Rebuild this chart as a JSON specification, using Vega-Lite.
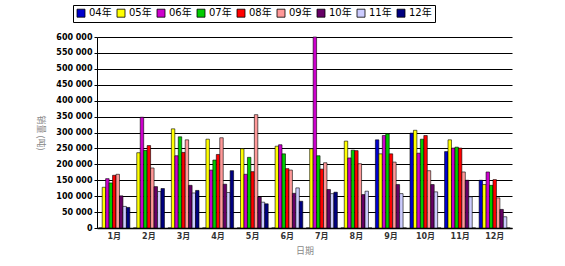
{
  "$schema": "https://vega.github.io/schema/vega-lite/v6.json",
  "width": 415,
  "height": 191,
  "autosize": {"type": "none"},
  "padding": {"left": 97, "top": 37, "right": 53, "bottom": 38},
  "background": "white",
  "datasets": {
    "sales": [
      {"m": "1月", "y": "04年", "v": 0}, {"m": "2月", "y": "04年", "v": 0}, {"m": "3月", "y": "04年", "v": 0}, {"m": "4月", "y": "04年", "v": 0},
      {"m": "5月", "y": "04年", "v": 0}, {"m": "6月", "y": "04年", "v": 0}, {"m": "7月", "y": "04年", "v": 0}, {"m": "8月", "y": "04年", "v": 0},
      {"m": "9月", "y": "04年", "v": 277000}, {"m": "10月", "y": "04年", "v": 298000}, {"m": "11月", "y": "04年", "v": 240000}, {"m": "12月", "y": "04年", "v": 150000},
      {"m": "1月", "y": "05年", "v": 128000}, {"m": "2月", "y": "05年", "v": 236500}, {"m": "3月", "y": "05年", "v": 311500}, {"m": "4月", "y": "05年", "v": 279000},
      {"m": "5月", "y": "05年", "v": 249000}, {"m": "6月", "y": "05年", "v": 257000}, {"m": "7月", "y": "05年", "v": 249000}, {"m": "8月", "y": "05年", "v": 273000},
      {"m": "9月", "y": "05年", "v": 233000}, {"m": "10月", "y": "05年", "v": 307000}, {"m": "11月", "y": "05年", "v": 277000}, {"m": "12月", "y": "05年", "v": 136500},
      {"m": "1月", "y": "06年", "v": 155000}, {"m": "2月", "y": "06年", "v": 348000}, {"m": "3月", "y": "06年", "v": 227000}, {"m": "4月", "y": "06年", "v": 182000},
      {"m": "5月", "y": "06年", "v": 168750}, {"m": "6月", "y": "06年", "v": 261500}, {"m": "7月", "y": "06年", "v": 600000}, {"m": "8月", "y": "06年", "v": 220000},
      {"m": "9月", "y": "06年", "v": 290500}, {"m": "10月", "y": "06年", "v": 235000}, {"m": "11月", "y": "06年", "v": 251000}, {"m": "12月", "y": "06年", "v": 176000},
      {"m": "1月", "y": "07年", "v": 141600}, {"m": "2月", "y": "07年", "v": 243750}, {"m": "3月", "y": "07年", "v": 286500}, {"m": "4月", "y": "07年", "v": 213500},
      {"m": "5月", "y": "07年", "v": 222000}, {"m": "6月", "y": "07年", "v": 233000}, {"m": "7月", "y": "07年", "v": 227000}, {"m": "8月", "y": "07年", "v": 244500},
      {"m": "9月", "y": "07年", "v": 296000}, {"m": "10月", "y": "07年", "v": 279000}, {"m": "11月", "y": "07年", "v": 254000}, {"m": "12月", "y": "07年", "v": 134000},
      {"m": "1月", "y": "08年", "v": 165600}, {"m": "2月", "y": "08年", "v": 259000}, {"m": "3月", "y": "08年", "v": 237500}, {"m": "4月", "y": "08年", "v": 231000},
      {"m": "5月", "y": "08年", "v": 177000}, {"m": "6月", "y": "08年", "v": 186500}, {"m": "7月", "y": "08年", "v": 185000}, {"m": "8月", "y": "08年", "v": 243000},
      {"m": "9月", "y": "08年", "v": 233000}, {"m": "10月", "y": "08年", "v": 290500}, {"m": "11月", "y": "08年", "v": 251000}, {"m": "12月", "y": "08年", "v": 152000},
      {"m": "1月", "y": "09年", "v": 168750}, {"m": "2月", "y": "09年", "v": 188500}, {"m": "3月", "y": "09年", "v": 277000}, {"m": "4月", "y": "09年", "v": 283500},
      {"m": "5月", "y": "09年", "v": 356000}, {"m": "6月", "y": "09年", "v": 182000}, {"m": "7月", "y": "09年", "v": 205000}, {"m": "8月", "y": "09年", "v": 202000},
      {"m": "9月", "y": "09年", "v": 207000}, {"m": "10月", "y": "09年", "v": 180000}, {"m": "11月", "y": "09年", "v": 176000}, {"m": "12月", "y": "09年", "v": 94700},
      {"m": "1月", "y": "10年", "v": 101000}, {"m": "2月", "y": "10年", "v": 130000}, {"m": "3月", "y": "10年", "v": 134000}, {"m": "4月", "y": "10年", "v": 137500},
      {"m": "5月", "y": "10年", "v": 97000}, {"m": "6月", "y": "10年", "v": 109000}, {"m": "7月", "y": "10年", "v": 121000}, {"m": "8月", "y": "10年", "v": 105000},
      {"m": "9月", "y": "10年", "v": 136500}, {"m": "10月", "y": "10年", "v": 136500}, {"m": "11月", "y": "10年", "v": 150000}, {"m": "12月", "y": "10年", "v": 58400},
      {"m": "1月", "y": "11年", "v": 67800}, {"m": "2月", "y": "11年", "v": 114600}, {"m": "3月", "y": "11年", "v": 110000}, {"m": "4月", "y": "11年", "v": 111500},
      {"m": "5月", "y": "11年", "v": 81000}, {"m": "6月", "y": "11年", "v": 126000}, {"m": "7月", "y": "11年", "v": 108000}, {"m": "8月", "y": "11年", "v": 115600},
      {"m": "9月", "y": "11年", "v": 108000}, {"m": "10月", "y": "11年", "v": 113500}, {"m": "11月", "y": "11年", "v": 98000}, {"m": "12月", "y": "11年", "v": 35300},
      {"m": "1月", "y": "12年", "v": 64600}, {"m": "2月", "y": "12年", "v": 124000}, {"m": "3月", "y": "12年", "v": 118000}, {"m": "4月", "y": "12年", "v": 180000},
      {"m": "5月", "y": "12年", "v": 76000}, {"m": "6月", "y": "12年", "v": 84000}, {"m": "7月", "y": "12年", "v": 112500}, {"m": "8月", "y": "12年", "v": 0},
      {"m": "9月", "y": "12年", "v": 0}, {"m": "10月", "y": "12年", "v": 0}, {"m": "11月", "y": "12年", "v": 0}, {"m": "12月", "y": "12年", "v": 0}
    ]
  },
  "data": {"name": "sales"},
  "mark": {"type": "bar", "stroke": "#000000", "strokeWidth": 0.6},
  "encoding": {
    "x": {
      "field": "m",
      "type": "nominal",
      "sort": ["1月", "2月", "3月", "4月", "5月", "6月", "7月", "8月", "9月", "10月", "11月", "12月"],
      "scale": {"paddingInner": 0.1, "paddingOuter": 0.05},
      "axis": {
        "title": "日期",
        "titleFont": "Noto Sans CJK SC",
        "titleFontSize": 9,
        "titleFontWeight": "normal",
        "titleColor": "#888888",
        "titlePadding": 6,
        "labelAngle": 0,
        "labelFont": "DejaVu Sans, Noto Sans CJK SC",
        "labelFontSize": 8,
        "labelFontWeight": "bold",
        "labelColor": "#333333",
        "labelPadding": 4,
        "ticks": false,
        "domainColor": "#000000",
        "domainWidth": 1.5
      }
    },
    "xOffset": {
      "field": "y",
      "type": "nominal",
      "scale": {"paddingInner": 0, "paddingOuter": 0}
    },
    "y": {
      "field": "v",
      "type": "quantitative",
      "scale": {"domain": [0, 600000], "nice": false},
      "axis": {
        "title": "销量 (吨)",
        "titleAngle": 90,
        "titleFont": "Noto Sans CJK SC",
        "titleFontSize": 9,
        "titleFontWeight": "normal",
        "titleColor": "#888888",
        "titlePadding": 20,
        "values": [0, 50000, 100000, 150000, 200000, 250000, 300000, 350000, 400000, 450000, 500000, 550000, 600000],
        "labelExpr": "replace(format(datum.value, ','), regexp(',', 'g'), ' ')",
        "labelFont": "DejaVu Sans",
        "labelFontSize": 8,
        "labelFontWeight": "bold",
        "labelColor": "#000000",
        "labelPadding": 2,
        "tickSize": 3,
        "tickColor": "#000000",
        "domainColor": "#000000",
        "grid": true,
        "gridColor": "#000000",
        "gridWidth": 1,
        "gridOpacity": 1
      }
    },
    "color": {
      "field": "y",
      "type": "nominal",
      "scale": {
        "domain": ["04年", "05年", "06年", "07年", "08年", "09年", "10年", "11年", "12年"],
        "range": ["#0000CC", "#FFFF00", "#CC00CC", "#00CC00", "#FF0000", "#FF9999", "#660066", "#CCCCFF", "#000080"]
      },
      "legend": {
        "title": null,
        "orient": "none",
        "legendX": -24,
        "legendY": -32,
        "direction": "horizontal",
        "columns": 9,
        "symbolType": "square",
        "symbolSize": 64,
        "symbolStrokeColor": "#000000",
        "symbolStrokeWidth": 0.8,
        "symbolOpacity": 1,
        "labelFont": "DejaVu Sans, Noto Sans CJK SC",
        "labelFontSize": 10,
        "labelColor": "#000000",
        "labelOffset": 3,
        "columnPadding": 3,
        "padding": 3,
        "strokeColor": "#000000",
        "fillColor": "#FFFFFF"
      }
    }
  },
  "config": {
    "view": {"stroke": null},
    "axis": {"gridDash": []}
  }
}
